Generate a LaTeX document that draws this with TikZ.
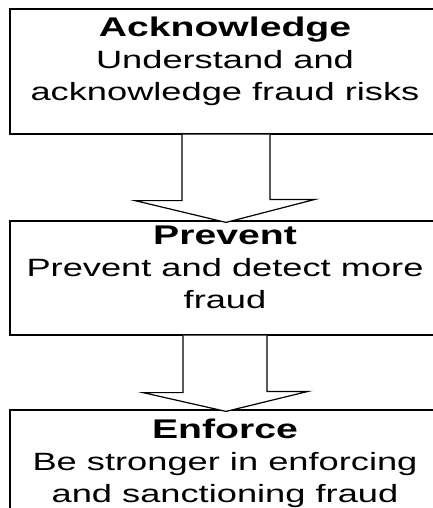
\documentclass[tikz,border=0pt]{standalone}
\usepackage{fontspec}
\setmainfont[FakeStretch=1.45]{Liberation Sans}
\usetikzlibrary{positioning}

\newcommand{\heading}[1]{{\fontsize{27}{32}\selectfont\bfseries #1}}

\begin{document}
\begin{tikzpicture}[x=1pt,y=-1pt]

\tikzstyle{box} = [rectangle, draw=black, line width=1.2pt, minimum width=432pt, inner sep=0pt]

\tikzstyle{txt} = [anchor=north, align=center, inner sep=0pt, font=\fontsize{25}{32}\selectfont]

\tikzstyle{barrow} = [draw=black, line width=1.2pt, fill=white, line join=miter]

    \useasboundingbox (0,0) rectangle (433,508);
    \clip (0,0) rectangle (433,508);

    \node [box, minimum height=125pt] (ack) at (226,71.5) {};
    \node [box, minimum height=114pt] (prev) at (226,278) {};
    \node [box, minimum height=120pt] (enf) at (226,470) {};

    \node [txt] (ackt) at (225,17) {\heading{Acknowledge}\\Understand and\\acknowledge fraud risks};
    \node [txt] (prevt) at (225,226) {\heading{Prevent}\\Prevent and detect more\\fraud};
    \node [txt] (enft) at (225,419) {\heading{Enforce}\\Be stronger in enforcing\\and sanctioning fraud};

    \draw [barrow] ([xshift=-44pt]ack.south) -- ++(0,66) -- ++(-47,0) -- ([yshift=-2pt]prev.north) -- ++(89,-23) -- ++(-45,0) -- ([xshift=44pt]ack.south);
    \draw [barrow] ([xshift=-43pt]prev.south) -- ++(0,57) -- ++(-40,0) -- ([yshift=-2pt]enf.north) -- ++(82,-20) -- ++(-41,0) -- ([xshift=41pt]prev.south);

\end{tikzpicture}
\end{document}
